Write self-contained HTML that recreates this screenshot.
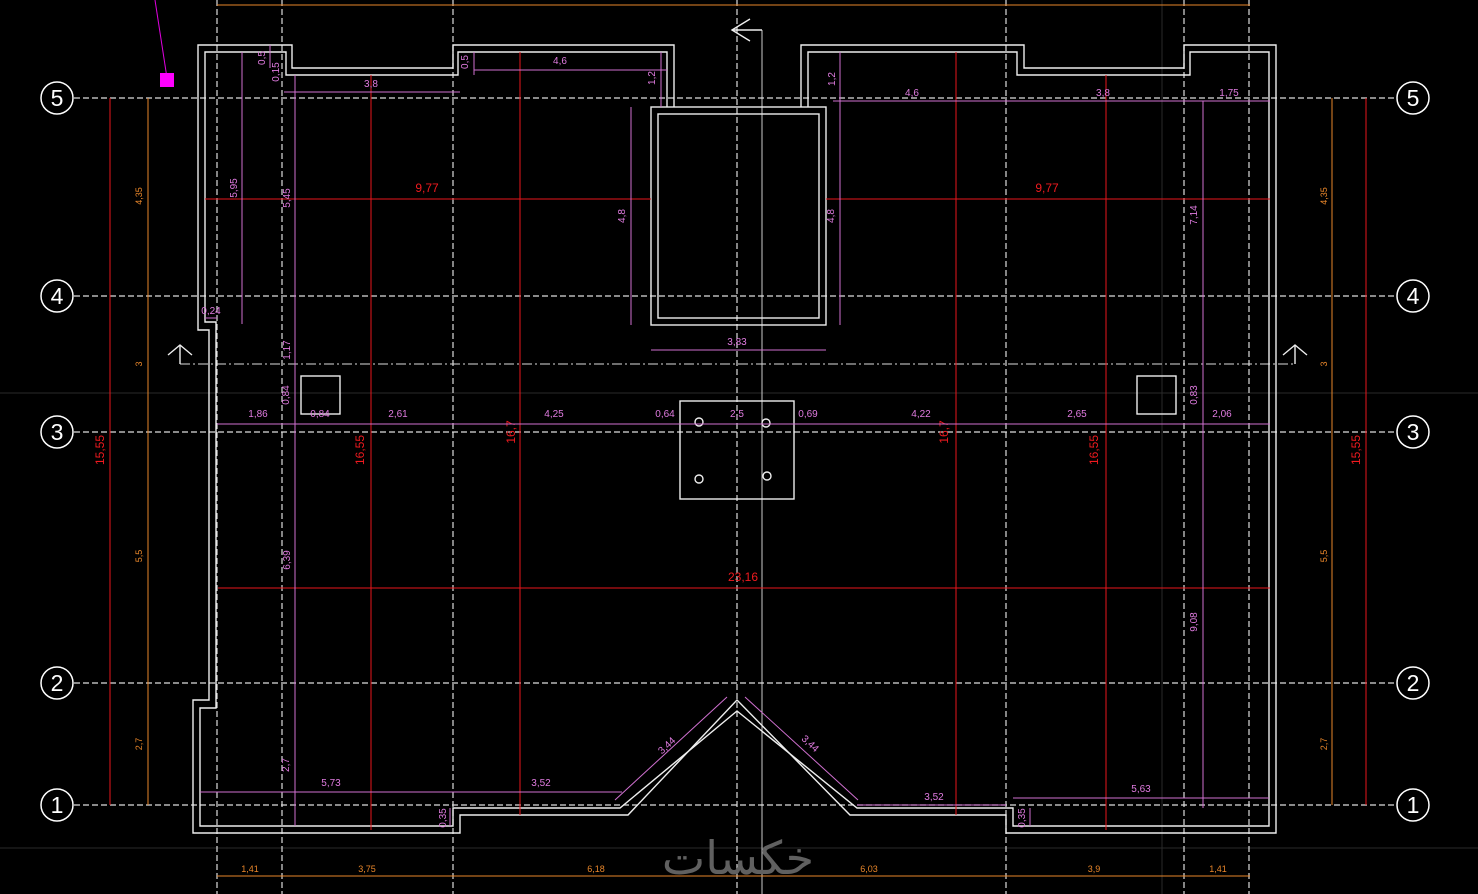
<!DOCTYPE html>
<html><head><meta charset="utf-8"><style>
html,body{margin:0;padding:0;background:#000;}
svg{display:block;}
text{font-family:"Liberation Sans",sans-serif;}
.m{fill:#e07be0;font-size:10px;text-anchor:middle;}
.r{fill:#f01a1f;font-size:12px;text-anchor:middle;}
.o{fill:#e8862a;font-size:9px;text-anchor:middle;}
.ax{fill:#fff;font-size:23px;text-anchor:middle;}
</style></head><body>
<svg width="1478" height="894" viewBox="0 0 1478 894" xmlns="http://www.w3.org/2000/svg">
<rect width="1478" height="894" fill="#000"/>
<g stroke="#2a2a2a" stroke-width="1">
<line x1="0" y1="848" x2="1478" y2="848"/>
<line x1="0" y1="393" x2="1478" y2="393"/>
<line x1="1162" y1="0" x2="1162" y2="894"/>
</g>
<line x1="762" y1="30" x2="762" y2="894" stroke="#ccc" stroke-width="1"/>
<g stroke="#ddd" stroke-width="1.2" stroke-dasharray="6,3" fill="none">
<line x1="74" y1="98" x2="1396" y2="98"/>
<line x1="74" y1="296" x2="1396" y2="296"/>
<line x1="74" y1="432" x2="1396" y2="432"/>
<line x1="74" y1="683" x2="1396" y2="683"/>
<line x1="74" y1="805" x2="1396" y2="805"/>
<line x1="217" y1="0" x2="217" y2="894"/>
<line x1="282" y1="0" x2="282" y2="894"/>
<line x1="453" y1="0" x2="453" y2="894"/>
<line x1="737" y1="0" x2="737" y2="894"/>
<line x1="1006" y1="0" x2="1006" y2="894"/>
<line x1="1184" y1="0" x2="1184" y2="894"/>
<line x1="1249" y1="0" x2="1249" y2="894"/>
</g>
<line x1="180" y1="364" x2="1295" y2="364" stroke="#ddd" stroke-width="1" stroke-dasharray="10,3,2,3"/>
<g stroke="#fff" stroke-width="1.5" fill="#000">
<circle cx="57" cy="98" r="16"/><circle cx="57" cy="296" r="16"/><circle cx="57" cy="432" r="16"/><circle cx="57" cy="683" r="16"/><circle cx="57" cy="805" r="16"/>
<circle cx="1413" cy="98" r="16"/><circle cx="1413" cy="296" r="16"/><circle cx="1413" cy="432" r="16"/><circle cx="1413" cy="683" r="16"/><circle cx="1413" cy="805" r="16"/>
</g>
<g class="ax">
<text x="57" y="106" class="ax">5</text><text x="57" y="304" class="ax">4</text><text x="57" y="440" class="ax">3</text><text x="57" y="691" class="ax">2</text><text x="57" y="813" class="ax">1</text>
<text x="1413" y="106" class="ax">5</text><text x="1413" y="304" class="ax">4</text><text x="1413" y="440" class="ax">3</text><text x="1413" y="691" class="ax">2</text><text x="1413" y="813" class="ax">1</text>
</g>
<g stroke="#eee" stroke-width="1.4" fill="none">
<polyline points="674,107 674,45 453,45 453,68 292,68 292,45 198,45 198,330 209,330 209,700 193,700 193,833 460,833 460,815 628,815 737,700 850,815 1006,815 1006,833 1276,833 1276,45 1184,45 1184,68 1024,68 1024,45 801,45 801,107"/>
<polyline points="667,107 667,52 458,52 458,75 286,75 286,52 205,52 205,322 216,322 216,708 200,708 200,826 453,826 453,808 620,808 737,711 857,808 1013,808 1013,826 1269,826 1269,52 1190,52 1190,75 1017,75 1017,52 808,52 808,107"/>
<rect x="651" y="107" width="175" height="218"/>
<rect x="658" y="114" width="161" height="204"/>
<rect x="680" y="401" width="114" height="98"/>
<rect x="301" y="376" width="39" height="38"/>
<rect x="1137" y="376" width="39" height="38"/>
<circle cx="699" cy="422" r="4"/><circle cx="766" cy="423" r="4"/><circle cx="699" cy="479" r="4"/><circle cx="767" cy="476" r="4"/>
<polyline points="168,355 180,345 192,355"/><line x1="180" y1="345" x2="180" y2="364"/>
<polyline points="1283,355 1295,345 1307,355"/><line x1="1295" y1="345" x2="1295" y2="364"/>
<polyline points="750,19 732,30 750,41"/><line x1="732" y1="30" x2="762" y2="30"/>
</g>
<g stroke="#e8161b" stroke-width="1">
<line x1="110" y1="98" x2="110" y2="805"/><line x1="1366" y1="98" x2="1366" y2="805"/>
<line x1="371" y1="75" x2="371" y2="830"/><line x1="520" y1="52" x2="520" y2="815"/>
<line x1="956" y1="52" x2="956" y2="815"/><line x1="1106" y1="75" x2="1106" y2="830"/>
<line x1="205" y1="199" x2="651" y2="199"/><line x1="826" y1="199" x2="1270" y2="199"/>
<line x1="218" y1="588" x2="1270" y2="588"/>
</g>
<g class="r">
<text x="427" y="192">9,77</text><text x="1047" y="192">9,77</text><text x="743" y="581">23,16</text>
<text transform="translate(104,450) rotate(-90)">15,55</text><text transform="translate(1360,450) rotate(-90)">15,55</text>
<text transform="translate(364,450) rotate(-90)">16,55</text><text transform="translate(1098,450) rotate(-90)">16,55</text>
<text transform="translate(515,432) rotate(-90)">16,7</text><text transform="translate(948,432) rotate(-90)">16,7</text>
</g>
<g stroke="#e8862a" stroke-width="1">
<line x1="217" y1="5" x2="1250" y2="5"/><line x1="217" y1="876" x2="1250" y2="876"/>
<line x1="148" y1="98" x2="148" y2="805"/><line x1="1332" y1="98" x2="1332" y2="805"/>
</g>
<g class="o">
<text x="250" y="872">1,41</text><text x="367" y="872">3,75</text><text x="596" y="872">6,18</text><text x="869" y="872">6,03</text><text x="1094" y="872">3,9</text><text x="1218" y="872">1,41</text>
<text transform="translate(142,196) rotate(-90)">4,35</text><text transform="translate(142,364) rotate(-90)">3</text><text transform="translate(142,556) rotate(-90)">5,5</text><text transform="translate(142,744) rotate(-90)">2,7</text>
<text transform="translate(1327,196) rotate(-90)">4,35</text><text transform="translate(1327,364) rotate(-90)">3</text><text transform="translate(1327,556) rotate(-90)">5,5</text><text transform="translate(1327,744) rotate(-90)">2,7</text>
</g>
<g stroke="#d070d0" stroke-width="1" fill="none">
<line x1="217" y1="424" x2="1270" y2="424"/>
<line x1="284" y1="92" x2="460" y2="92"/>
<line x1="474" y1="70" x2="667" y2="70"/>
<line x1="661" y1="52" x2="661" y2="107"/>
<line x1="474" y1="52" x2="474" y2="75"/>
<line x1="833" y1="101" x2="1270" y2="101"/>
<line x1="840" y1="52" x2="840" y2="107"/>
<line x1="242" y1="52" x2="242" y2="324"/>
<line x1="270" y1="45" x2="270" y2="68"/>
<line x1="295" y1="75" x2="295" y2="826"/>
<line x1="631" y1="107" x2="631" y2="325"/>
<line x1="840" y1="107" x2="840" y2="325"/>
<line x1="651" y1="350" x2="826" y2="350"/>
<line x1="1203" y1="101" x2="1203" y2="808"/>
<line x1="200" y1="792" x2="622" y2="792"/>
<line x1="857" y1="805" x2="1006" y2="805"/>
<line x1="1013" y1="798" x2="1269" y2="798"/>
<line x1="450" y1="808" x2="450" y2="826"/>
<line x1="1030" y1="808" x2="1030" y2="826"/>
<line x1="615" y1="800" x2="727" y2="697"/>
<line x1="745" y1="697" x2="858" y2="800"/>
<line x1="205" y1="318" x2="217" y2="318"/>
<line x1="155" y1="0" x2="167" y2="78" stroke="#e000e0"/>
</g>
<rect x="160" y="73" width="14" height="14" fill="#ff00ff"/>
<g class="m">
<text x="258" y="417">1,86</text><text x="320" y="417">0,84</text><text x="398" y="417">2,61</text><text x="554" y="417">4,25</text><text x="665" y="417">0,64</text><text x="737" y="417">2,5</text><text x="808" y="417">0,69</text><text x="921" y="417">4,22</text><text x="1077" y="417">2,65</text><text x="1222" y="417">2,06</text>
<text x="371" y="87">3,8</text><text x="560" y="64">4,6</text>
<text x="912" y="96">4,6</text><text x="1103" y="96">3,8</text><text x="1229" y="96">1,75</text>
<text x="737" y="345">3,83</text><text x="211" y="314">0,24</text>
<text x="331" y="786">5,73</text><text x="541" y="786">3,52</text><text x="934" y="800">3,52</text><text x="1141" y="792">5,63</text>
<text transform="translate(655,78) rotate(-90)">1,2</text><text transform="translate(835,79) rotate(-90)">1,2</text>
<text transform="translate(468,62) rotate(-90)">0,5</text><text transform="translate(265,58) rotate(-90)">0,5</text><text transform="translate(279,72) rotate(-90)">0,15</text>
<text transform="translate(237,188) rotate(-90)">5,95</text><text transform="translate(290,198) rotate(-90)">5,45</text>
<text transform="translate(290,350) rotate(-90)">1,17</text><text transform="translate(289,395) rotate(-90)">0,84</text>
<text transform="translate(290,560) rotate(-90)">6,39</text><text transform="translate(289,765) rotate(-90)">2,7</text>
<text transform="translate(625,216) rotate(-90)">4,8</text><text transform="translate(834,216) rotate(-90)">4,8</text>
<text transform="translate(1197,215) rotate(-90)">7,14</text><text transform="translate(1197,395) rotate(-90)">0,83</text><text transform="translate(1197,622) rotate(-90)">9,08</text>
<text transform="translate(446,818) rotate(-90)">0,35</text><text transform="translate(1025,818) rotate(-90)">0,35</text>
<text transform="translate(669,748) rotate(-43)">3,44</text><text transform="translate(808,746) rotate(43)">3,44</text>
</g>
<text x="738" y="874" font-family="'Liberation Sans','Noto Sans CJK SC',sans-serif" font-size="46" fill="#606060" text-anchor="middle">خكسات</text>
</svg>
</body></html>
